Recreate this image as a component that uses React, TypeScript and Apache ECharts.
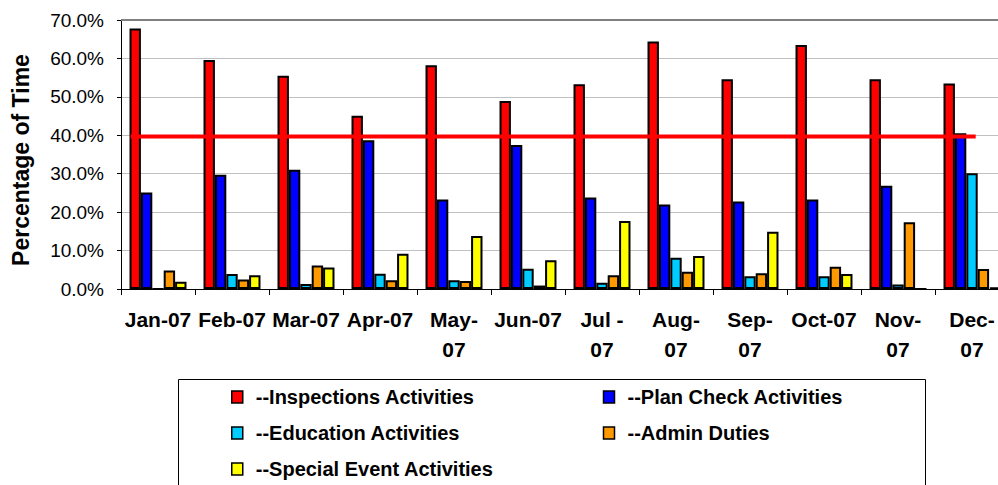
import React, { useEffect, useRef } from 'react';
import * as echarts from 'echarts';

const months = ['Jan-07', 'Feb-07', 'Mar-07', 'Apr-07', 'May-07', 'Jun-07', 'Jul -07', 'Aug-07', 'Sep-07', 'Oct-07', 'Nov-07', 'Dec-07'];
const tickLabels = ['Jan-07', 'Feb-07', 'Mar-07', 'Apr-07', 'May-\n07', 'Jun-07', 'Jul -\n07', 'Aug-\n07', 'Sep-\n07', 'Oct-07', 'Nov-\n07', 'Dec-\n07'];

const inspections = [67.8, 59.6, 55.5, 45.1, 58.2, 48.9, 53.3, 64.4, 54.6, 63.5, 54.6, 53.5];
const planCheck = [25.1, 29.7, 31.0, 38.7, 23.3, 37.5, 23.8, 22.0, 22.8, 23.3, 26.9, 40.5];
const education = [0, 3.9, 1.3, 4.0, 2.3, 5.3, 1.6, 8.1, 3.3, 3.3, 1.2, 30.1];
const adminDuties = [4.8, 2.5, 6.1, 2.3, 2.1, 0.9, 3.6, 4.5, 4.1, 5.8, 17.4, 5.2];
const specialEvent = [1.9, 3.6, 5.6, 9.2, 13.8, 7.5, 17.7, 8.6, 14.9, 3.9, 0, 0.4];

const seriesNames = [
  '--Inspections Activities',
  '--Plan Check Activities',
  '--Education Activities',
  '--Admin Duties',
  '--Special Event Activities',
];

// target reference line: level (%) and span in category units
const targetLevel = 39.7;
const targetSpan = [0.13, 11.55];

const FONT = "'Liberation Sans', Arial, Helvetica, sans-serif";
const COLORS = ['#FF0000', '#0000FF', '#00CCFF', '#FF9900', '#FFFF00'];

export default function App() {
  const ref = useRef<HTMLDivElement>(null);

  useEffect(() => {
    if (!ref.current) return;
    const chart = echarts.init(ref.current, undefined, { renderer: 'svg' });
    const values = [inspections, planCheck, education, adminDuties, specialEvent];

    const barSeries = values.map((data, i) => ({
      name: seriesNames[i],
      type: 'bar',
      data,
      barGap: '0%',
      barCategoryGap: '23%',
      itemStyle: { color: COLORS[i], borderColor: '#000', borderWidth: 2 },
      ...(i === 0
        ? {
            markLine: {
              silent: true,
              symbol: 'none',
              label: { show: false },
              lineStyle: { color: '#808080', width: 2, type: 'solid' },
              data: [{ yAxis: 70 }],
            },
          }
        : {}),
    }));

    chart.setOption({
      animation: false,
      backgroundColor: '#fff',
      textStyle: { fontFamily: FONT },
      grid: { left: 121, top: 20, width: 888, height: 269, containLabel: false, outerBoundsMode: 'none' },
      xAxis: [
        {
          type: 'category',
          data: months,
          axisLine: { lineStyle: { color: '#000', width: 1 } },
          axisTick: { show: true, length: 6, lineStyle: { color: '#000' } },
          axisLabel: {
            interval: 0,
            margin: 15,
            color: '#000',
            fontWeight: 'bold',
            fontSize: 21,
            lineHeight: 30,
            fontFamily: FONT,
            formatter: (_v: string, i: number) => tickLabels[i],
          },
        },
        { type: 'value', min: 0, max: 12, show: false },
      ],
      yAxis: {
        type: 'value',
        min: 0,
        max: 70,
        interval: 10,
        name: 'Percentage of Time',
        nameLocation: 'middle',
        nameGap: 89,
        nameTextStyle: {
          fontSize: 23,
          fontWeight: 'bold',
          color: '#000',
          fontFamily: FONT,
          padding: [0, 11, 0, 0],
        },
        axisLine: { show: true, lineStyle: { color: '#000', width: 1 } },
        axisTick: { show: true, length: 4, lineStyle: { color: '#000' } },
        axisLabel: {
          margin: 17,
          color: '#000',
          fontSize: 19,
          fontFamily: FONT,
          formatter: (v: number) => v.toFixed(1) + '%',
        },
        splitLine: {
          show: true,
          lineStyle: { color: '#c0c0c0', width: 1 },
        },
      },
      legend: {
        data: seriesNames,
        left: 231,
        top: 385,
        width: 740,
        padding: 0,
        itemGap: 12,
        itemWidth: 11,
        itemHeight: 12,
        icon: 'rect',
        selectedMode: false,
        itemStyle: { borderColor: '#000', borderWidth: 1.5 },
        textStyle: {
          fontSize: 20,
          fontWeight: 'bold',
          color: '#000',
          fontFamily: FONT,
          lineHeight: 24,
          width: 335,
          padding: [0, 0, 0, 8],
        },
      },
      graphic: [
        {
          type: 'rect',
          silent: true,
          shape: { x: 178.5, y: 379.5, width: 747, height: 130 },
          style: { fill: 'none', stroke: '#000', lineWidth: 1 },
        },
      ],
      series: [
        ...barSeries,
        {
          name: 'target',
          type: 'line',
          xAxisIndex: 1,
          yAxisIndex: 0,
          data: [
            [targetSpan[0], targetLevel],
            [targetSpan[1], targetLevel],
          ],
          symbol: 'none',
          silent: true,
          z: 5,
          lineStyle: { color: '#FF0000', width: 4 },
        },
      ],
    });

    return () => chart.dispose();
  }, []);

  return (
    <div
      ref={ref}
      style={{ position: 'fixed', left: 0, top: 0, width: 998, height: 485, background: '#fff' }}
    />
  );
}
